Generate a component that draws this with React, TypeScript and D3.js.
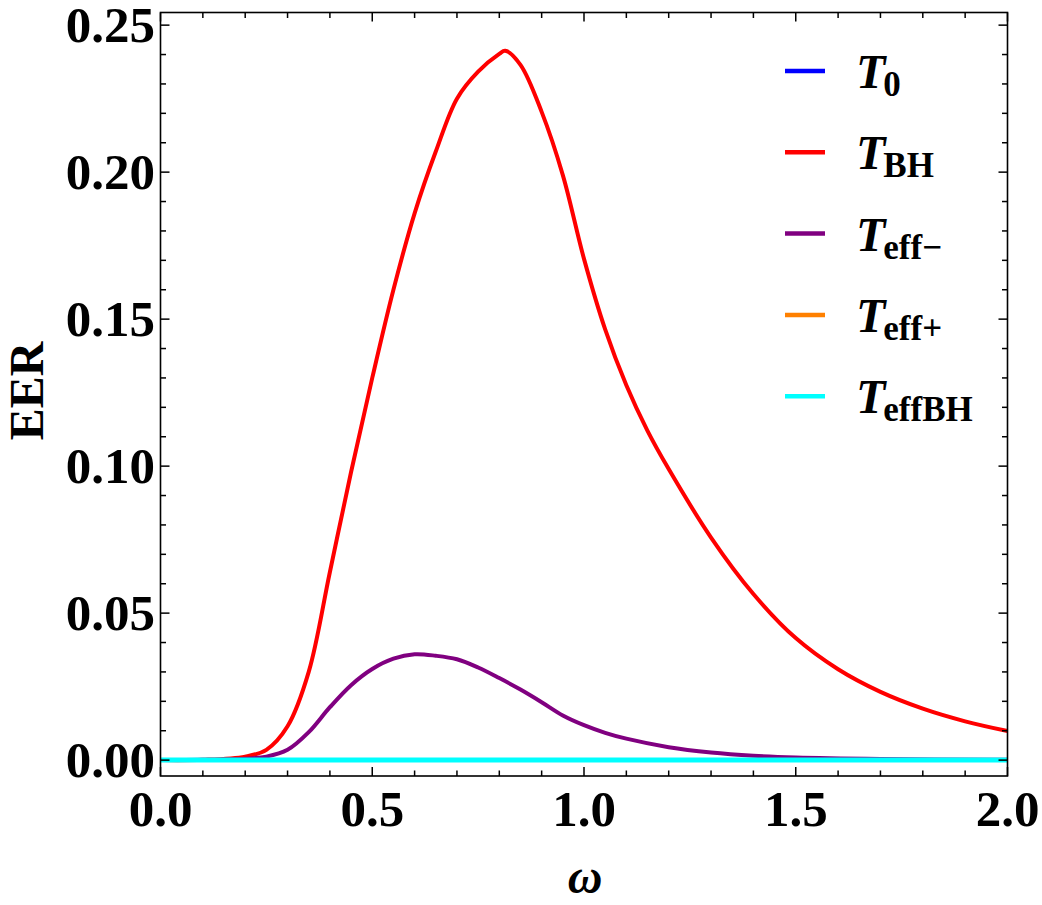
import React, { useEffect, useRef } from 'react';
import * as d3 from 'd3';

// ω grid and EER values for the black-hole temperature curve
const bhOmega = [
  0, 0.1, 0.2, 0.25, 0.3, 0.35, 0.4, 0.45, 0.5, 0.55, 0.6, 0.65, 0.7, 0.75, 0.8, 0.814,
  0.85, 0.9, 0.95, 1.0, 1.05, 1.1, 1.15, 1.2, 1.3, 1.4, 1.5, 1.6, 1.7, 1.8, 1.9, 2.0
];
const bhValues = [
  0, 0.0001, 0.0012, 0.0035, 0.0115, 0.03, 0.064, 0.098, 0.13, 0.16, 0.186, 0.207, 0.225, 0.2342, 0.2402, 0.2413,
  0.2365, 0.2205, 0.199, 0.1705, 0.1465, 0.1275, 0.112, 0.099, 0.0757, 0.0565, 0.0415, 0.0309, 0.0232, 0.0175, 0.0132, 0.0099
];

// ω grid and EER values for T_eff−
const effMinusOmega = [
  0, 0.1, 0.2, 0.25, 0.3, 0.35, 0.4, 0.45, 0.5, 0.55, 0.6, 0.65, 0.7, 0.75, 0.8, 0.85,
  0.9, 0.95, 1.0, 1.05, 1.1, 1.2, 1.3, 1.4, 1.5, 1.7, 2.0
];
const effMinusValues = [
  0, 0.0001, 0.0005, 0.0012, 0.0035, 0.0095, 0.018, 0.0255, 0.031, 0.0345, 0.036, 0.0355, 0.0343, 0.0315, 0.0279, 0.024,
  0.0197, 0.0152, 0.0119, 0.0093, 0.0073, 0.0044, 0.0026, 0.0015, 0.0009, 0.0004, 0.0001
];

// the remaining temperatures stay at zero over the whole range
const flatOmega = [0, 2];
const flatValues = [0, 0];

const seriesNames = ['T0', 'TBH', 'Teff-', 'Teff+', 'TeffBH'];
const seriesColors = ['#0000ff', '#ff0000', '#800080', '#ff8000', '#00ffff'];
const seriesWidths = [4, 4, 4, 4, 5];
const legendMain = ['T', 'T', 'T', 'T', 'T'];
const legendSub = ['0', 'BH', 'eff−', 'eff+', 'effBH'];

const xTicks = [0, 0.5, 1.0, 1.5, 2.0];
const yTicks = [0, 0.05, 0.1, 0.15, 0.2, 0.25];

const W = 1042;
const H = 905;
const FONT = '"Liberation Serif", "Times New Roman", serif';

const App: React.FC = () => {
  const svgRef = useRef<SVGSVGElement>(null);

  useEffect(() => {
    if (!svgRef.current) return;
    const svg = d3.select(svgRef.current);
    svg.selectAll('*').remove();

    const left = 160.5;
    const right = 1007.5;
    const top = 12.5;
    const bottom = 776;

    const x = d3.scaleLinear().domain([0, 2]).range([left, right]);
    const y = d3.scaleLinear().domain([-0.0054, 0.2543]).range([bottom, top]);

    const series = [
      { omega: flatOmega, values: flatValues },
      { omega: bhOmega, values: bhValues },
      { omega: effMinusOmega, values: effMinusValues },
      { omega: flatOmega, values: flatValues },
      { omega: flatOmega, values: flatValues }
    ];

    // curves, clipped to the frame
    svg.append('clipPath').attr('id', 'plot-clip')
      .append('rect')
      .attr('x', left).attr('y', top)
      .attr('width', right - left).attr('height', bottom - top);

    const line = d3.line<[number, number]>()
      .x(d => x(d[0]))
      .y(d => y(d[1]))
      .curve(d3.curveCatmullRom.alpha(0.5));

    const curves = svg.append('g').attr('clip-path', 'url(#plot-clip)');
    series.forEach((s, i) => {
      const pts = s.omega.map((w, j) => [w, s.values[j]] as [number, number]);
      curves.append('path')
        .attr('d', line(pts))
        .attr('fill', 'none')
        .attr('stroke', seriesColors[i])
        .attr('stroke-width', seriesWidths[i])
        .attr('stroke-linejoin', 'round');
    });

    // frame
    svg.append('rect')
      .attr('x', left).attr('y', top)
      .attr('width', right - left).attr('height', bottom - top)
      .attr('fill', 'none')
      .attr('stroke', '#000')
      .attr('stroke-width', 1.6);

    const ticks = svg.append('g').attr('stroke', '#000').attr('stroke-width', 1.5);
    const major = 9;
    const minor = 5.5;

    // x ticks on bottom and top, minor every 0.1
    d3.range(0, 21).forEach(k => {
      const v = k / 10;
      const len = k % 5 === 0 ? major : minor;
      const px = x(v);
      ticks.append('line').attr('x1', px).attr('x2', px).attr('y1', bottom).attr('y2', bottom - len);
      ticks.append('line').attr('x1', px).attr('x2', px).attr('y1', top).attr('y2', top + len);
    });

    // y ticks on left and right, minor every 0.01
    d3.range(0, 26).forEach(k => {
      const v = k / 100;
      const len = k % 5 === 0 ? major : minor;
      const py = y(v);
      ticks.append('line').attr('x1', left).attr('x2', left + len).attr('y1', py).attr('y2', py);
      ticks.append('line').attr('x1', right).attr('x2', right - len).attr('y1', py).attr('y2', py);
    });

    const labelStyle = (sel: d3.Selection<SVGTextElement, unknown, null, undefined>, size: number) =>
      sel.attr('font-family', FONT).attr('font-weight', 'bold').attr('font-size', size).attr('fill', '#000');

    xTicks.forEach(v => {
      svg.append('text')
        .call(labelStyle, 51)
        .attr('x', x(v))
        .attr('y', 826)
        .attr('text-anchor', 'middle')
        .text(d3.format('.1f')(v));
    });

    yTicks.forEach(v => {
      svg.append('text')
        .call(labelStyle, 51)
        .attr('x', 155)
        .attr('y', y(v) + 17)
        .attr('text-anchor', 'end')
        .text(d3.format('.2f')(v));
    });

    // axis titles
    svg.append('text')
      .call(labelStyle, 48)
      .attr('transform', `translate(43,391) rotate(-90)`)
      .attr('text-anchor', 'middle')
      .text('EER');

    svg.append('text')
      .call(labelStyle, 48)
      .attr('x', 585)
      .attr('y', 893)
      .attr('text-anchor', 'middle')
      .attr('font-style', 'italic')
      .text('ω');

    // legend
    const legend = svg.append('g');
    seriesNames.forEach((name, i) => {
      const cy = 71 + i * 81.3;
      legend.append('line')
        .attr('x1', 785).attr('x2', 825)
        .attr('y1', cy).attr('y2', cy)
        .attr('stroke', seriesColors[i])
        .attr('stroke-width', 4.5);
      const t = legend.append('text')
        .attr('font-family', FONT)
        .attr('font-weight', 'bold')
        .attr('fill', '#000')
        .attr('x', 856)
        .attr('y', cy + 17)
        .attr('data-series', name);
      t.append('tspan')
        .attr('font-style', 'italic')
        .attr('font-size', 48)
        .text(legendMain[i]);
      t.append('tspan')
        .attr('font-size', 35)
        .attr('dx', -2)
        .attr('dy', 8)
        .text(legendSub[i]);
    });
  }, []);

  return (
    <svg
      ref={svgRef}
      width={W}
      height={H}
      style={{ position: 'absolute', left: 0, top: 0, background: '#fff', display: 'block' }}
    />
  );
};

export default App;
